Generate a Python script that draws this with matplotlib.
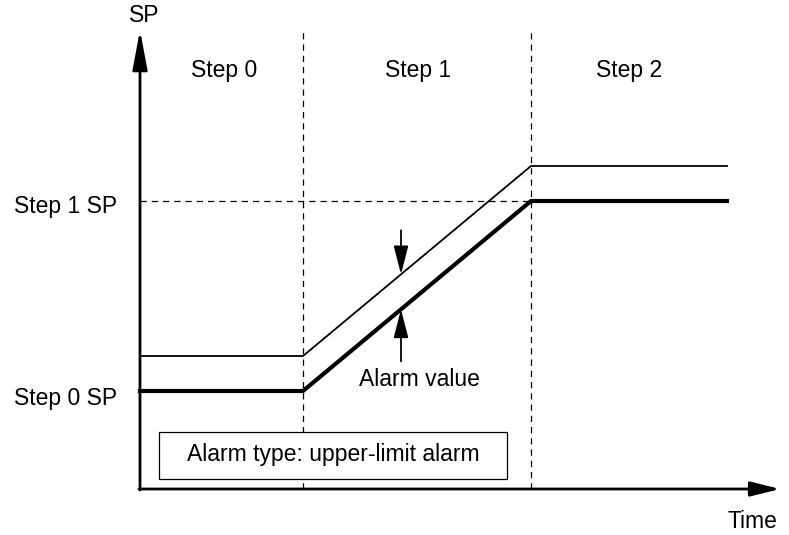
import matplotlib.pyplot as plt

plt.rcParams['font.family'] = ['Liberation Sans', 'DejaVu Sans']

# Tiempo (unidades arbitrarias) y valores de SP del esquema
t_pasos = [0, 163, 391, 587]          # inicio, fin paso 0, fin paso 1, fin del dibujo
sp_paso0 = 98
sp_paso1 = 288
valor_alarma = 35
t_alarma = 261                        # donde se marca el "Alarm value"

tiempos = [t_pasos[0], t_pasos[1], t_pasos[2], t_pasos[3]]
sp = [sp_paso0, sp_paso0, sp_paso1, sp_paso1]
alarma = [v + valor_alarma for v in sp]

etiquetas_pasos = ['Step 0', 'Step 1', 'Step 2']
centros_pasos = [84, 278, 489]

fs = 16.5
fig = plt.figure(figsize=(7.89, 5.35), dpi=100)
ax = fig.add_axes([0, 0, 1, 1])
ax.set_xlim(-140, 649)
ax.set_ylim(-46, 489)
ax.axis('off')

# Ejes con flechas
ax.annotate('', xy=(640, 0), xytext=(-1, 0),
            arrowprops=dict(arrowstyle='-|>,head_length=1.8,head_width=0.45',
                            color='black', lw=2, shrinkA=0, shrinkB=0))
ax.annotate('', xy=(0, 459), xytext=(0, -1),
            arrowprops=dict(arrowstyle='-|>,head_length=2.4,head_width=0.45',
                            color='black', lw=2, shrinkA=0, shrinkB=0))
ax.text(4, 474, 'SP', ha='center', va='center', fontsize=fs)
ax.text(612, -33, 'Time', ha='center', va='center', fontsize=fs)

# Separadores de pasos
for t in t_pasos[1:3]:
    ax.plot([t, t], [0, 457], color='black', lw=0.9, ls=(0, (5, 4)), zorder=1)
ax.plot([0, t_pasos[2]], [sp_paso1, sp_paso1], color='black', lw=0.9, ls=(0, (5, 4)))

for c, et in zip(centros_pasos, etiquetas_pasos):
    ax.text(c, 419, et, ha='center', va='center', fontsize=fs)

# Curvas SP y alarma
ax.plot(tiempos, sp, color='black', lw=3, solid_joinstyle='miter')
ax.plot(tiempos, alarma, color='black', lw=1.3, solid_joinstyle='miter')

ax.text(-23, sp_paso1 - 6, 'Step 1 SP', ha='right', va='center', fontsize=fs)
ax.text(-23, sp_paso0 - 7, 'Step 0 SP', ha='right', va='center', fontsize=fs)

# Flechas del valor de alarma
pend = (sp_paso1 - sp_paso0) / (t_pasos[2] - t_pasos[1])
y_sp = sp_paso0 + pend * (t_alarma - t_pasos[1])
y_al = y_sp + valor_alarma
ax.annotate('', xy=(t_alarma, y_al), xytext=(t_alarma, y_al + 44),
            arrowprops=dict(arrowstyle='-|>,head_length=1.75,head_width=0.45',
                            color='black', lw=1.3, shrinkA=0, shrinkB=0))
ax.annotate('', xy=(t_alarma, y_sp), xytext=(t_alarma, y_sp - 52),
            arrowprops=dict(arrowstyle='-|>,head_length=1.75,head_width=0.45',
                            color='black', lw=1.3, shrinkA=0, shrinkB=0))
ax.text(t_alarma + 18, 109, 'Alarm value', ha='center', va='center', fontsize=fs)

# Recuadro del tipo de alarma (tapa la línea discontinua)
ax.add_patch(plt.Rectangle((19, 10), 348, 47, facecolor='white', edgecolor='black',
                           lw=0.9, zorder=3))
ax.text(193, 34, 'Alarm type: upper-limit alarm', ha='center', va='center',
        fontsize=fs, zorder=4)

plt.savefig('out.png', dpi=100)
